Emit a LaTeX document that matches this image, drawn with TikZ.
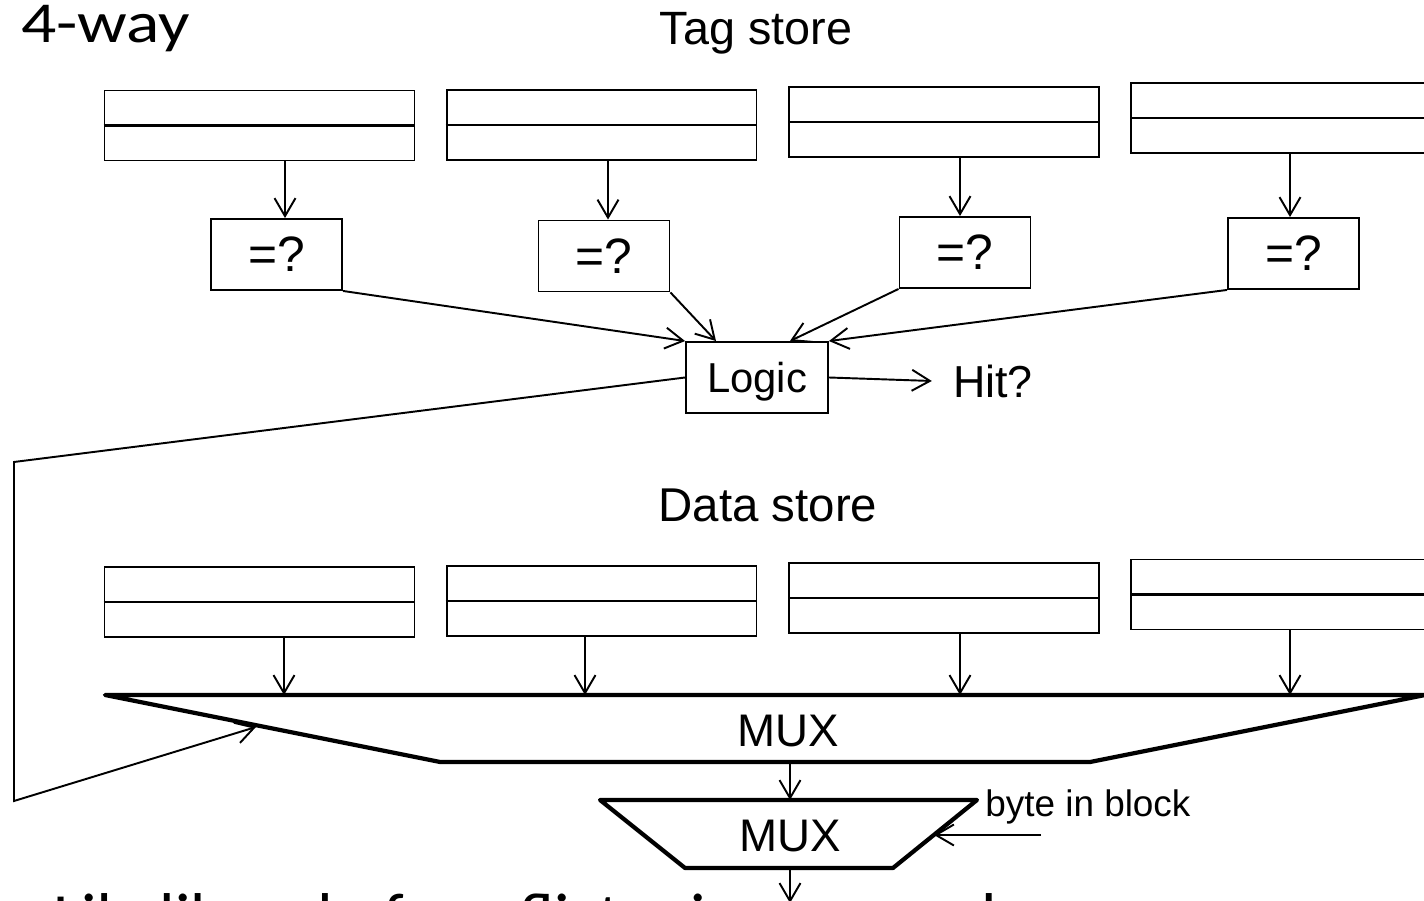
\documentclass[tikz,border=0pt]{standalone}
\usepackage{fontspec}
\newfontfamily\arialf{Liberation Sans}
\newfontfamily\calibf{Carlito}
\usetikzlibrary{arrows, arrows.meta}

\tikzset{
  entry/.style={draw, line width=1.1pt, minimum width=6.2cm, minimum height=1.4cm, inner sep=0pt},
  cmpbox/.style={draw, line width=1.1pt, minimum width=2.62cm, minimum height=1.42cm, font=\arialf\fontsize{28.3}{30}\selectfont},
  arr/.style={-{Straight Barb[length=3.6mm, width=4.2mm]}, line width=1.1pt},
  muxline/.style={line width=2.4pt, line join=round},
  lbl/.style={inner sep=0pt, font=\arialf\fontsize{#1}{#1}\selectfont},
}

\begin{document}
\begin{tikzpicture}[x=0.02cm, y=-0.02cm]
\useasboundingbox (0,0) rectangle (1424,901);
\clip (0,0) rectangle (1424,901);

% headings
\node[anchor=base west, inner sep=0pt, font=\calibf\fontsize{33}{35}\selectfont] (title) at (21,43) {\scalebox{1.2}[1]{4-way}};
\node[lbl=26.6, anchor=base] (tagtitle) at (756,45) {Tag store};
\node[lbl=27, anchor=base] (datatitle) at (768,522) {Data store};

% tag store
\node[entry] (t1) at (259.5,125.5) {};
\node[entry] (t2) at (601.5,125) {};
\node[entry] (t3) at (944,122) {};
\node[entry] (t4) at (1286,118) {};
\foreach \n in {t1,t2,t3,t4}
  \draw[line width=1.4pt] (\n.west) -- (\n.east);

% comparators
\node[cmpbox] (c1) at (276.5,254.5) {=?};
\node[cmpbox] (c2) at (604,256) {=?};
\node[cmpbox] (c3) at (965,252.5) {=?};
\node[cmpbox] (c4) at (1293.5,253.5) {=?};
\foreach \t/\c/\x in {t1/c1/285, t2/c2/608, t3/c3/960, t4/c4/1290}
  \draw[arr] (\t.south -| \x,0) -- (\c.north -| \x,0);

% hit logic
\node[cmpbox, font=\arialf\fontsize{23.8}{24}\selectfont, text depth=0pt, minimum width=2.84cm] (lg) at (757,377.5) {Logic};
\node[lbl=25.5, text depth=0pt] (hit) at (993,381) {Hit?};
\draw[arr] (c1.south east) -- (lg.north west);
\draw[arr] (c2.south east) -- (lg.north -| 716,0);
\draw[arr] (c3.south west) -- (lg.north -| 790,0);
\draw[arr] (c4.south west) -- (lg.north east);
\draw[arr] (lg.east) -- ([xshift=-0.42cm]hit.west);

% data store
\node[entry] (d1) at (259.5,602) {};
\node[entry] (d2) at (601.5,601) {};
\node[entry] (d3) at (944,598) {};
\node[entry] (d4) at (1286,594.5) {};
\foreach \n in {d1,d2,d3,d4}
  \draw[line width=1.4pt] (\n.west) -- (\n.east);

% way select mux
\coordinate (ma1) at (105,695);
\coordinate (ma2) at (1425,695);
\coordinate (ma3) at (1090,762);
\coordinate (ma4) at (440,762);
\draw[muxline] (ma1) -- (ma2) -- (ma3) -- (ma4) -- cycle;
\node[lbl=26, text depth=0pt] (muxa) at (788,731) {MUX};
\foreach \d/\x in {d1/284, d2/585, d3/960, d4/1290}
  \draw[arr] (\d.south -| \x,0) -- (ma1 -| \x,0);

% feedback from logic
\coordinate (fb1) at (14,462);
\coordinate (fb2) at (14,801);
\coordinate (fb3) at (256,727);
\draw[arr] (lg.west) -- (fb1) -- (fb2) -- (fb3);

% byte select mux
\coordinate (mb1) at (600,800);
\coordinate (mb2) at (977,800);
\coordinate (mb3) at (893,868);
\coordinate (mb4) at (685,868);
\draw[muxline] (mb1) -- (mb2) -- (mb3) -- (mb4) -- cycle;
\node[lbl=26, text depth=0pt] (muxb) at (790,835.5) {MUX};
\draw[arr] (ma4 -| muxb) -- (mb1 -| muxb);
\draw[arr] (mb4 -| muxb) -- (muxb |- 0,903);

\node[lbl=21, anchor=base west] (bib) at (985,817) {byte in block};
\coordinate (bibtail) at (1041,835);
\coordinate (bibtip) at (934,835);
\draw[arr] (bibtail) -- (bibtip);

% cut off note
\node[anchor=base west, inner sep=0pt, font=\calibf\fontsize{38.5}{40}\selectfont] (note) at (4,940) {+ Likelihood of conflict misses even lower};
\end{tikzpicture}
\end{document}
